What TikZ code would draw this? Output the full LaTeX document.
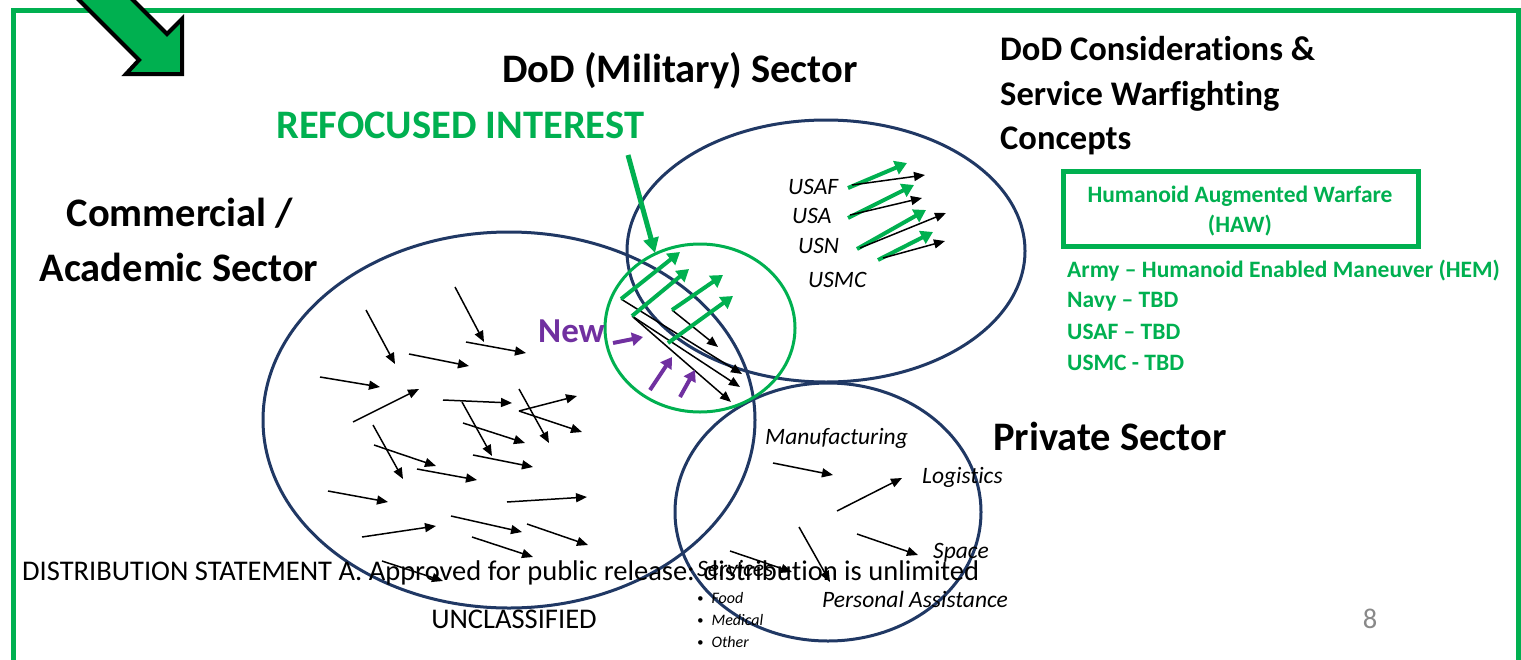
\documentclass[tikz,border=0pt]{standalone}
\usepackage{fontspec}
\setmainfont{Carlito}[Ligatures=NoCommon]
\usetikzlibrary{arrows.meta}
\definecolor{gr}{HTML}{00B050}
\definecolor{navy}{HTML}{203864}
\definecolor{purp}{HTML}{7030A0}
\definecolor{pgnum}{HTML}{898989}
\begin{document}
\begin{tikzpicture}[x=1pt,y=-1pt,
  title/.style={font=\fontsize{40.5}{48}\selectfont\bfseries, inner sep=0pt},
  ctitle/.style={font=\fontsize{34.5}{40}\selectfont\bfseries, inner sep=0pt},
  small/.style={font=\fontsize{23.5}{28}\selectfont\itshape, inner sep=0pt},
  tiny/.style={font=\fontsize{16}{19}\selectfont\itshape, inner sep=0pt},
  gbold/.style={font=\fontsize{23.5}{28}\selectfont\bfseries, text=gr, inner sep=0pt},
  foot/.style={font=\fontsize{28.5}{33}\selectfont, inner sep=0pt},
  sector/.style={draw=navy, line width=3pt},
  blk/.style={black, line width=1.5pt, -{Triangle[length=11pt,width=9pt]}},
  garr/.style={gr, line width=4pt, -{Triangle[length=12pt,width=14pt]}},
  parr/.style={purp, line width=4pt, -{Triangle[length=11pt,width=13pt]}}]
\useasboundingbox (0,0) rectangle (1521,659);
\clip (0,0) rectangle (1521,659);
\fill[white] (0,0) rectangle (1521,659);
% frame
\draw[gr, line width=5pt] (13,10.5) rectangle (1518,720);
% big arrow
\draw[fill=gr, draw=black, line width=4pt, line join=miter]
  (40,-39) -- (139,60) -- (126,74) -- (182,74) -- (182,19) -- (167,34) -- (95,-38) -- cycle;
% sector ellipses
\draw[sector] (509,420) ellipse [x radius=246pt, y radius=188pt];
\draw[sector] (826,251) ellipse [x radius=199pt, y radius=131pt];
\draw[sector] (828,512) ellipse [x radius=153pt, y radius=129pt];
% refocused interest circle
\draw[gr, line width=3pt] (700,328) ellipse [x radius=95pt, y radius=84pt];
% commercial arrows
\foreach \a/\b/\c/\d in {455/287/484/342, 366/310/395/364, 466/342/526/353,
  409/354/469/366, 320/377/380/387, 353/422/419/389, 443/400/512/403,
  519/389/549/443, 519/411/577/396, 519/411/582/432, 462/402/492/456,
  463/423/525/443, 373/425/403/479, 374/445/436/466, 473/455/533/467,
  417/469/477/480, 328/491/388/502, 507/502/587/497, 451/516/522/532,
  527/524/588/545, 362/537/436/526, 472/537/533/557, 382/561/443/581}
  \draw[blk] (\a,\b) -- (\c,\d);
% arrows in refocused circle
\foreach \a/\b/\c/\d in {621/299/742/374, 632/316/740/387, 633/317/731/402, 672/310/718/347}
  \draw[blk] (\a,\b) -- (\c,\d);
\foreach \a/\b/\c/\d in {621/299/680/252, 632/316/689/269, 672/310/723/275, 668/343/733/296}
  \draw[garr] (\a,\b) -- (\c,\d);
\foreach \a/\b/\c/\d in {613/343/643/337, 650/390/672/357, 680/397/695/370}
  \draw[parr] (\a,\b) -- (\c,\d);
% DoD arrows
\foreach \a/\b/\c/\d in {848/188/907/163, 848/218/914/185, 857/249/926/210, 878/260/933/232}
  \draw[garr] (\a,\b) -- (\c,\d);
\foreach \a/\b/\c/\d in {852/185/925/175, 850/215/922/198, 860/248/946/213, 883/258/945/241}
  \draw[blk] (\a,\b) -- (\c,\d);
% private arrows
\foreach \a/\b/\c/\d in {773/463/833/475, 837/511/902/478, 857/534/918/555, 799/527/830/582, 730/551/792/572}
  \draw[blk] (\a,\b) -- (\c,\d);
% refocused arrow
\draw[gr, line width=5pt, -{Triangle[length=15pt,width=15pt]}] (628,155) -- (655,253);
% titles
\node[title, anchor=base west] (dod) at (502,82) {DoD (Military) Sector};
\node[title, anchor=base west, text=gr] (refocus) at (276,138) {REFOCUSED INTEREST};
\node[ctitle, anchor=base west] (cons1) at (1000,60) {DoD Considerations \&};
\node[ctitle, anchor=base west] (cons2) at (1000,105) {Service Warfighting};
\node[ctitle, anchor=base west] (cons3) at (1000,149) {Concepts};
\node[title, anchor=base] (com1) at (180,226) {Commercial /};
\node[title, anchor=base] (com2) at (179,281) {Academic Sector};
\node[title, anchor=base west] (priv) at (993,450) {Private Sector};
\node[font=\fontsize{35}{40}\selectfont\bfseries, text=purp, inner sep=0pt, anchor=base west] (new) at (538,342) {New};
% services
\node[small, anchor=base west] (usaf) at (788,194) {USAF};
\node[small, anchor=base west] (usa) at (792,223) {USA};
\node[small, anchor=base west] (usn) at (798,253) {USN};
\node[small, anchor=base west] (usmc) at (808,287) {USMC};
% HAW box
\draw[gr, line width=5pt] (1063,171) rectangle (1418,246);
\node[gbold, anchor=base] (haw1) at (1240,202) {Humanoid Augmented Warfare};
\node[gbold, anchor=base] (haw2) at (1240,232) {(HAW)};
\node[gbold, anchor=base west] (army) at (1067,277) {Army – Humanoid Enabled Maneuver (HEM)};
\node[gbold, anchor=base west] (navy) at (1067,307) {Navy – TBD};
\node[gbold, anchor=base west] (usafc) at (1067,339) {USAF – TBD};
\node[gbold, anchor=base west] (usmcc) at (1067,370) {USMC - TBD};
% private labels
\node[small, anchor=base west] (manu) at (765,444) {Manufacturing};
\node[small, anchor=base west] (logi) at (922,483) {Logistics};
\node[small, anchor=base west] (space) at (933,558) {Space};
\node[small, anchor=base west] (pers) at (822,607) {Personal Assistance};
\node[small, anchor=base west] (serv) at (697,576) {Services};
\node[tiny, anchor=base west] (food) at (697,603) {\raisebox{1pt}{\scalebox{0.8}{•}}\hspace{8pt}Food};
\node[tiny, anchor=base west] (med) at (697,625) {\raisebox{1pt}{\scalebox{0.8}{•}}\hspace{8pt}Medical};
\node[tiny, anchor=base west] (oth) at (697,647) {\raisebox{1pt}{\scalebox{0.8}{•}}\hspace{8pt}Other};
% footer
\node[foot, anchor=base west] (dist) at (22,580) {DISTRIBUTION STATEMENT A. Approved for public release: distribution is unlimited};
\node[foot, anchor=base] (uncl) at (514,628) {UNCLASSIFIED};
\node[foot, anchor=base, text=pgnum] (pg) at (1370,628) {8};
\end{tikzpicture}
\end{document}
